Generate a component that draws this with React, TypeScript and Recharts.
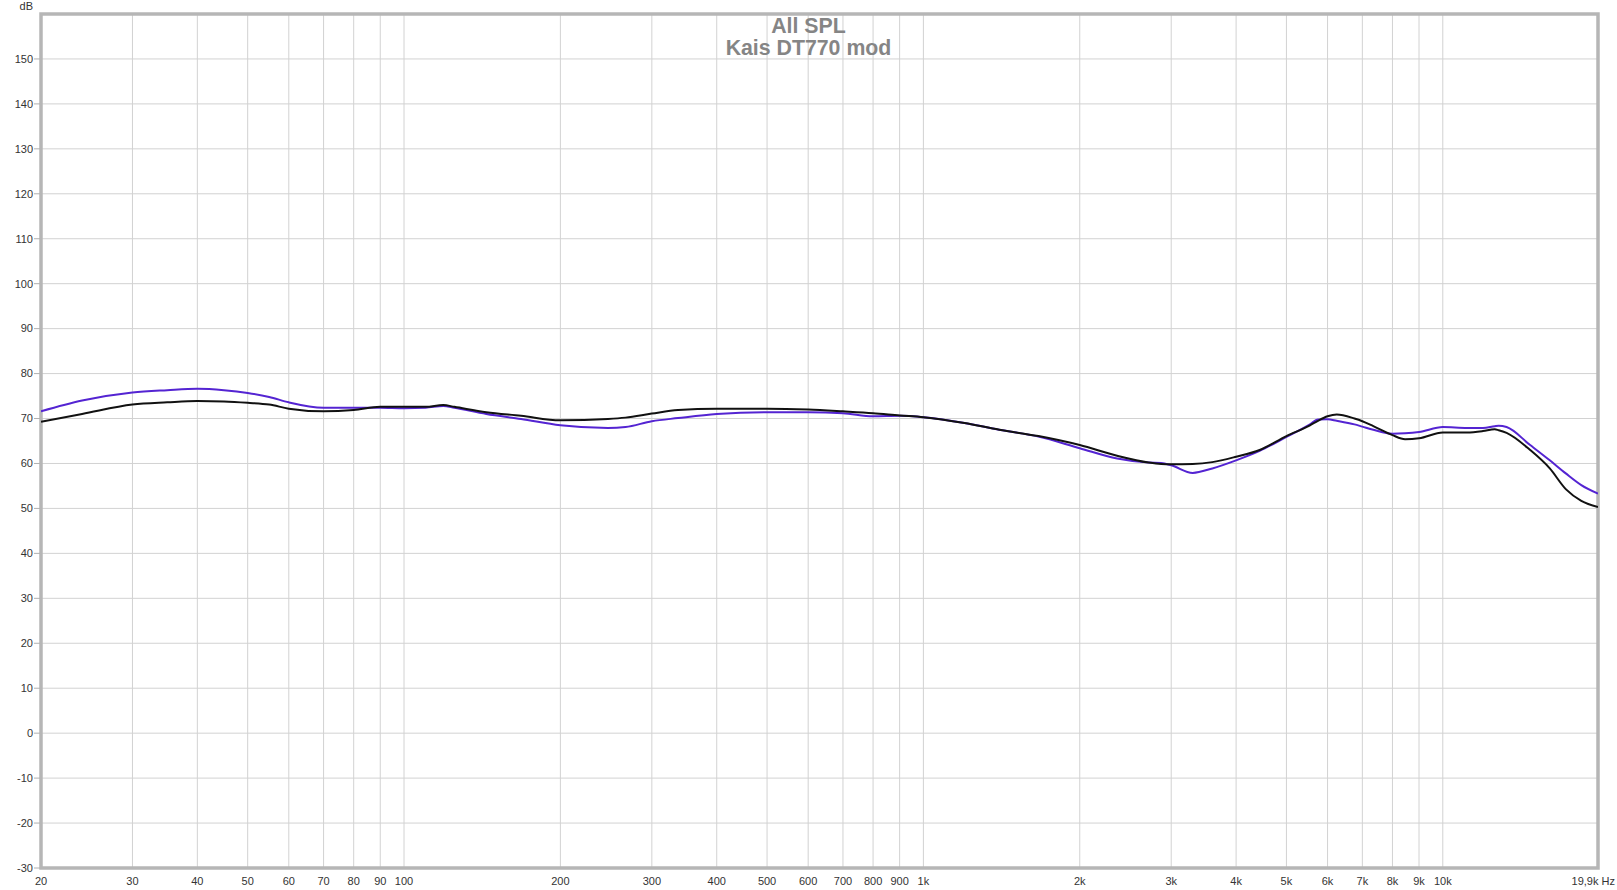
import React from "react";
import { LineChart, Line, XAxis, YAxis, CartesianGrid, ReferenceArea } from "recharts";

const freqs = [
  20, 24, 30, 35, 40, 45, 50, 55, 60, 70, 80, 90, 100, 110, 119, 125, 144, 168, 200, 247, 267, 300, 337,
  400, 500, 600, 700, 800, 900, 1000, 1200, 1400, 1665, 2000, 2360, 2714, 2870, 3000, 3300, 3600, 4000,
  4440, 5000, 5550, 5750, 6000, 6250, 6760, 7000, 7350, 8000, 8460, 9000, 10000, 11140, 11950, 12590,
  12810, 13270, 14730, 16070, 17250, 18480, 19900,
];

const blackSpl = [
  69.3, 71.0, 73.1, 73.6, 73.9, 73.8, 73.5, 73.1, 72.2, 71.6, 71.9, 72.6, 72.6, 72.6, 73.0, 72.6, 71.4, 70.6,
  69.6, 69.9, 70.2, 71.1, 71.9, 72.2, 72.2, 72.0, 71.6, 71.2, 70.7, 70.3, 69.0, 67.5, 66.1, 64.1, 61.7, 60.2,
  59.9, 59.85, 59.9, 60.3, 61.5, 63.0, 66.1, 68.5, 69.5, 70.5, 70.9, 70.0, 69.4, 68.3, 66.3, 65.4, 65.6, 66.9,
  66.9, 67.2, 67.6, 67.4, 66.8, 63.0, 58.9, 54.3, 51.7, 50.3,
];

const purpleSpl = [
  71.6, 74.0, 75.8, 76.3, 76.6, 76.3, 75.7, 74.8, 73.6, 72.4, 72.4, 72.4, 72.3, 72.4, 72.8, 72.4, 71.0, 69.9,
  68.5, 67.9, 68.1, 69.4, 70.1, 71.0, 71.4, 71.4, 71.2, 70.5, 70.6, 70.3, 69.0, 67.5, 66.0, 63.4, 61.1, 60.2,
  60.1, 59.6, 57.9, 58.9, 60.7, 62.8, 65.9, 68.7, 69.8, 69.85, 69.5, 68.7, 68.2, 67.5, 66.6, 66.7, 67.0, 68.1,
  67.9, 67.9, 68.3, 68.4, 68.1, 64.1, 60.7, 57.8, 55.2, 53.3,
];

const xTicks = [
  20, 30, 40, 50, 60, 70, 80, 90, 100, 200, 300, 400, 500, 600, 700, 800, 900, 1000, 2000, 3000, 4000, 5000,
  6000, 7000, 8000, 9000, 10000, 19900,
];
const yTicks = [-30, -20, -10, 0, 10, 20, 30, 40, 50, 60, 70, 80, 90, 100, 110, 120, 130, 140, 150];

const titleLine1 = "All SPL";
const titleLine2 = "Kais DT770 mod";
const yUnit = "dB";

const data = freqs.map((f, i) => ({ f, black: blackSpl[i], purple: purpleSpl[i] }));

const FONT = "'Liberation Sans', Arial, sans-serif";

function fmtX(v: number): string {
  if (v === 19900) return "19,9k Hz";
  if (v >= 1000) return v / 1000 + "k";
  return String(v);
}

const XTick = (props: any) => {
  const { x, y, payload } = props;
  const v = payload.value;
  const last = v === 19900;
  return (
    <text
      x={last ? x + 17 : x}
      y={y + 17}
      textAnchor={last ? "end" : "middle"}
      fontSize={11}
      fontFamily={FONT}
      fill="#333"
    >
      {fmtX(v)}
    </text>
  );
};

const YTick = (props: any) => {
  const { x, y, payload } = props;
  return (
    <g>
      <line x1={x - 7} x2={x - 1} y1={y} y2={y} stroke="#b0b0b0" strokeWidth={1} />
      <text x={x - 8} y={y} dy="0.35em" textAnchor="end" fontSize={11} fontFamily={FONT} fill="#333">
        {payload.value}
      </text>
    </g>
  );
};

export default function App() {
  return (
    <div style={{ position: "absolute", left: 0, top: 0, width: 1617, height: 890, background: "#fff" }}>
      <LineChart width={1617} height={890} data={data} margin={{ top: 14, right: 19, bottom: 0, left: 0 }}>
        <CartesianGrid stroke="#d2d2d2" strokeWidth={1} />
        <XAxis
          dataKey="f"
          type="number"
          scale="log"
          domain={[20, 19900]}
          ticks={xTicks}
          interval={0}
          allowDataOverflow
          height={22}
          tickSize={0}
          tickMargin={0}
          axisLine={false}
          tickLine={false}
          tick={<XTick />}
        />
        <YAxis
          type="number"
          domain={[-30, 160]}
          ticks={yTicks}
          interval={0}
          allowDataOverflow
          width={41}
          tickSize={0}
          tickMargin={0}
          axisLine={false}
          tickLine={false}
          tick={<YTick />}
        />
        <ReferenceArea
          x1={20}
          x2={19900}
          y1={-30}
          y2={160}
          fill="none"
          fillOpacity={0}
          stroke="#b6b6b6"
          strokeWidth={3.5}
          ifOverflow="visible"
        />
        <Line
          type="monotone"
          dataKey="purple"
          stroke="#5424d2"
          strokeWidth={2}
          dot={false}
          isAnimationActive={false}
        />
        <Line
          type="monotone"
          dataKey="black"
          stroke="#111"
          strokeWidth={2}
          dot={false}
          isAnimationActive={false}
        />
      </LineChart>
      <div
        style={{
          position: "absolute",
          left: 0,
          top: 15,
          width: 1617,
          textAlign: "center",
          fontFamily: FONT,
          fontWeight: "bold",
          fontSize: 21.3,
          lineHeight: "22px",
          color: "#858585",
          pointerEvents: "none",
        }}
      >
        <div>{titleLine1}</div>
        <div>{titleLine2}</div>
      </div>
      <div
        style={{
          position: "absolute",
          right: 1617 - 33,
          top: 0,
          fontFamily: FONT,
          fontSize: 11,
          lineHeight: "12px",
          color: "#333",
        }}
      >
        {yUnit}
      </div>
    </div>
  );
}
